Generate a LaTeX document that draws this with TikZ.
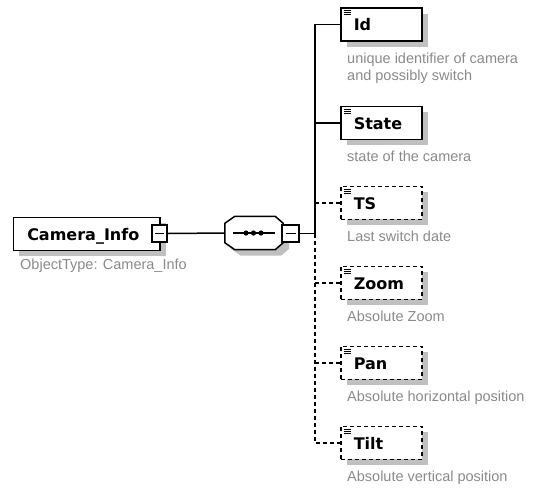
\documentclass[tikz,border=0pt]{standalone}
\usepackage{fontspec}
\setmainfont{Liberation Sans}
\newfontfamily\namefont{DejaVu Sans}
\usetikzlibrary{shadows}
\definecolor{shadowgray}{HTML}{C0C0C0}
\definecolor{descgray}{HTML}{8A8A8A}
\tikzset{
  conn/.style={line width=1.5pt},
  optconn/.style={line width=1.5pt, dash pattern=on 4pt off 3pt},
  elem/.style={draw, line width=1.5pt, fill=white, anchor=north west,
    minimum width=81pt, minimum height=33pt, text width=55pt, inner xsep=13pt, inner ysep=0pt,
    text height=13pt, text depth=0pt, align=left,
    font=\namefont\bfseries\fontsize{16}{18}\selectfont,
    drop shadow={shadow xshift=6pt, shadow yshift=-6pt, fill=shadowgray, opacity=1}},
  optelem/.style={elem, dash pattern=on 4pt off 3pt},
  desc/.style={anchor=base west, inner sep=0pt, text=descgray,
    font=\fontsize{14.5}{17}\selectfont},
  minusbox/.style={draw, line width=1.5pt, fill=white, minimum width=15pt, minimum height=17pt, inner sep=0pt},
  icon/.style={line width=1pt}
}
\begin{document}
\begin{tikzpicture}[x=1pt, y=-1pt]
\useasboundingbox (0,0) rectangle (535,488);
% root element
\node[elem, minimum width=146.5pt, text width=118.5pt, inner xsep=14pt] (root) at (12.5,216.5) {Camera\_Info};
\node[desc] (rootdesc) at (20,269) {ObjectType: Camera\_Info};
\node[minusbox] (rm) at (159.5,233.5) {};
\draw[conn] ([xshift=-4.5pt]rm.center) -- ([xshift=4.5pt]rm.center);
% sequence compositor
\node[minimum width=58pt, minimum height=33pt, inner sep=0pt] (seq) at (254,233) {};
\fill[shadowgray] ([shift={(16pt,-6pt)}]seq.north west) -- ([shift={(-2pt,-6pt)}]seq.north east)
  -- ([shift={(6pt,-13pt)}]seq.north east) -- ([shift={(6pt,1pt)}]seq.south east)
  -- ([shift={(-2pt,-6pt)}]seq.south east) -- ([shift={(16pt,-6pt)}]seq.south west)
  -- ([shift={(6pt,1pt)}]seq.south west) -- ([shift={(6pt,-13pt)}]seq.north west) -- cycle;
\draw[conn, fill=white] ([xshift=10pt]seq.north west) -- ([xshift=-8pt]seq.north east) -- ([yshift=-7pt]seq.north east)
  -- ([yshift=7pt]seq.south east) -- ([xshift=-8pt]seq.south east) -- ([xshift=10pt]seq.south west)
  -- ([yshift=7pt]seq.south west) -- ([yshift=-7pt]seq.north west) -- cycle;
\draw[conn] ([xshift=8pt]seq.west) -- ([xshift=-8pt]seq.east);
\foreach \dx in {-8,-0.5,7} \fill ([xshift=\dx pt]seq.center) circle (2.6pt);
\node[minusbox, minimum width=17pt] (sm) at (290.5,233.5) {};
\draw[conn] ([xshift=-5pt]sm.center) -- ([xshift=5pt]sm.center);
\coordinate (bus) at (315,233.5);
% children
\node[elem] (c1) at (340,7) {Id};
\node[elem] (c2) at (340,105.5) {State};
\node[optelem] (c3) at (340,185.5) {TS};
\node[optelem] (c4) at (340,265.5) {Zoom};
\node[optelem] (c5) at (340,345.5) {Pan};
\node[optelem] (c6) at (340,425.5) {Tilt};
\foreach \n in {c1,c2,c3,c4,c5,c6}{
  \foreach \k in {0,2.2,4.4}
    \draw[icon] ([xshift=3.5pt,yshift=-3.5pt-\k pt]\n.north west) -- ++(7.5,0);
}
\node[desc] (d1a) at (347,63) {unique identifier of camera};
\node[desc] (d1b) at (347,80) {and possibly switch};
\node[desc] (d2) at (347,161) {state of the camera};
\node[desc] (d3) at (347,241) {Last switch date};
\node[desc] (d4) at (347,321) {Absolute Zoom};
\node[desc] (d5) at (347,401) {Absolute horizontal position};
\node[desc] (d6) at (347,481) {Absolute vertical position};
% connectors
\draw[conn] (rm.east) -- (seq.west);
\draw[conn] (sm.east) -- (bus);
\draw[conn] (bus) -- (bus |- c1.west) -- (c1.west);
\draw[conn] (bus |- c2.west) -- (c2.west);
\draw[optconn] (bus) -- (bus |- c6.west) -- (c6.west);
\draw[optconn] (bus |- c3.west) -- (c3.west);
\draw[optconn] (bus |- c4.west) -- (c4.west);
\draw[optconn] (bus |- c5.west) -- (c5.west);
\end{tikzpicture}
\end{document}
